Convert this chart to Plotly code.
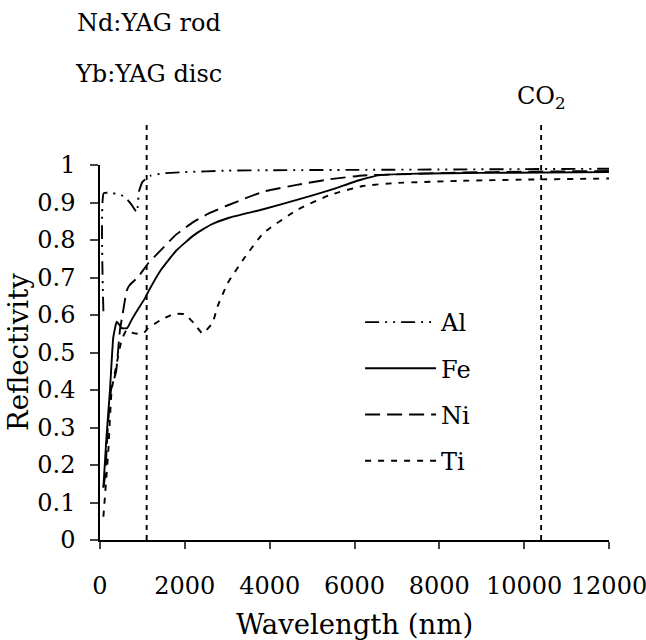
import plotly.graph_objects as go

# ---- data ----
al_wl = [80, 90, 300, 500, 650, 750, 870, 920, 1000, 1100, 1200, 1500, 2000, 3000, 4000, 6000, 8000, 10000, 12000]
al_r = [0.61, 0.925, 0.925, 0.92, 0.907, 0.893, 0.874, 0.93, 0.955, 0.965, 0.972, 0.978, 0.981, 0.985, 0.986, 0.987, 0.988, 0.989, 0.99]

fe_wl = [80, 150, 235, 313, 393, 450, 510, 640, 745, 860, 1060, 1137, 1435, 1800, 2215, 2600, 3060, 3850, 4640, 5420, 6130, 6600, 7500, 9000, 10500, 12000]
fe_r = [0.14, 0.27, 0.40, 0.54, 0.582, 0.575, 0.565, 0.565, 0.587, 0.609, 0.645, 0.662, 0.72, 0.772, 0.813, 0.840, 0.86, 0.882, 0.907, 0.933, 0.96, 0.973, 0.977, 0.979, 0.98, 0.981]

ni_wl = [80, 120, 190, 260, 380, 470, 530, 630, 700, 890, 1137, 1435, 1800, 2215, 2600, 3000, 3850, 4640, 5420, 6200, 6990, 8560, 10000, 12000]
ni_r = [0.14, 0.17, 0.31, 0.40, 0.45, 0.56, 0.60, 0.665, 0.68, 0.70, 0.738, 0.773, 0.815, 0.849, 0.873, 0.892, 0.929, 0.947, 0.962, 0.972, 0.975, 0.98, 0.982, 0.984]

ti_wl = [80, 197, 275, 393, 510, 627, 750, 890, 1035, 1137, 1435, 1740, 2000, 2215, 2415, 2650, 2770, 3005, 3390, 3850, 4640, 5420, 6200, 6990, 8560, 10000, 12000]
ti_r = [0.062, 0.24, 0.40, 0.47, 0.533, 0.56, 0.553, 0.55, 0.552, 0.565, 0.587, 0.603, 0.602, 0.578, 0.551, 0.578, 0.622, 0.684, 0.75, 0.818, 0.88, 0.92, 0.944, 0.952, 0.958, 0.961, 0.964]

laser_wl = [1100, 10400]
laser_labels = ["Nd:YAG rod", "Yb:YAG disc", "CO<sub>2</sub>"]

x_ticks = [0, 2000, 4000, 6000, 8000, 10000, 12000]
x_ticktext = ["0", "2000", "4000", "6000", "8000", "10000", "12000"]
y_ticks = [0, 0.1, 0.2, 0.3, 0.4, 0.5, 0.6, 0.7, 0.8, 0.9, 1]
y_ticktext = ["0", "0.1", "0.2", "0.3", "0.4", "0.5", "0.6", "0.7", "0.8", "0.9", "1"]

FONT = "DejaVu Serif"
TICK_FS = 24
TITLE_FS = 27.5
TEXT_FS = 24

series = [
    ("Al", al_wl, al_r, "14px,6px,2px,6px,2px,6px"),
    ("Fe", fe_wl, fe_r, "solid"),
    ("Ni", ni_wl, ni_r, "15px,7px"),
    ("Ti", ti_wl, ti_r, "6px,7px"),
]

fig = go.Figure()
for name, xs, ys, dash in series:
    fig.add_trace(go.Scatter(
        x=xs, y=ys, name=name, mode="lines", legendgroup=name,
        line=dict(color="black", width=1.9, dash=dash, shape="spline", smoothing=0.4),
    ))

for wl in laser_wl:
    fig.add_shape(type="line", xref="x", yref="paper", x0=wl, x1=wl, y0=0, y1=1.115,
                  line=dict(color="black", width=1.9, dash="5px,5px"))

txt_font = dict(family=FONT, size=TEXT_FS, color="black")
fig.add_annotation(xref="paper", yref="paper", x=0.096, y=1.38, xanchor="center", yanchor="middle",
                   text=laser_labels[0], showarrow=False, font=txt_font)
fig.add_annotation(xref="paper", yref="paper", x=0.096, y=1.243, xanchor="center", yanchor="middle",
                   text=laser_labels[1], showarrow=False, font=txt_font)
fig.add_annotation(xref="x", yref="paper", x=laser_wl[1], y=1.115, xanchor="center", yanchor="bottom",
                   yshift=7, text=laser_labels[2], showarrow=False, font=txt_font)
# y-axis title
fig.add_annotation(xref="paper", yref="paper", x=-0.162, y=0.5, xanchor="center", yanchor="middle",
                   textangle=-90, text="Reflectivity", showarrow=False, borderpad=0,
                   font=dict(family=FONT, size=TITLE_FS, color="black"))

fig.update_layout(
    width=646, height=640,
    margin=dict(l=100, r=37, t=165, b=100, autoexpand=False),
    paper_bgcolor="white", plot_bgcolor="white",
    font=dict(family=FONT, size=TICK_FS, color="black"),
    showlegend=True,
    legend=dict(x=0.511, y=0.64, xanchor="left", yanchor="top", bgcolor="rgba(0,0,0,0)",
                itemwidth=71, tracegroupgap=12, font=dict(family=FONT, size=TEXT_FS)),
    xaxis=dict(range=[0, 12000], tickvals=x_ticks, ticktext=x_ticktext, ticks="outside", ticklen=7,
               tickwidth=1.5, tickfont=dict(family=FONT, size=TICK_FS), ticklabeloverflow="allow",
               automargin=False,
               showline=True, linecolor="black", linewidth=1.5, showgrid=False, zeroline=False,
               ticklabelstandoff=16,
               title=dict(text="Wavelength (nm)", standoff=16, font=dict(family=FONT, size=TITLE_FS))),
    yaxis=dict(range=[0, 1], tickvals=y_ticks, ticktext=y_ticktext, ticks="outside", ticklen=8,
               tickwidth=1.5, tickfont=dict(family=FONT, size=TICK_FS), automargin=False,
               showline=True, linecolor="black", linewidth=1.5, showgrid=False, zeroline=False,
               ticklabelstandoff=10),
)

fig.write_html("out.html")
